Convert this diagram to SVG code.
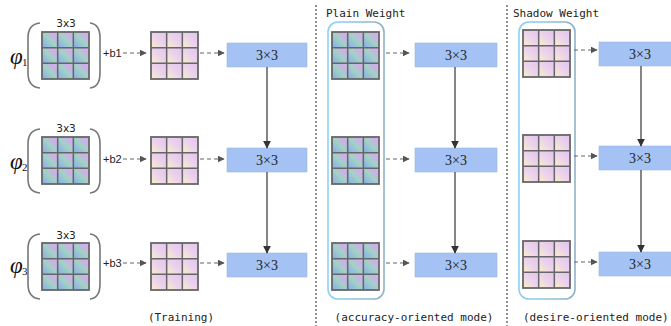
<svg xmlns="http://www.w3.org/2000/svg" xmlns:xlink="http://www.w3.org/1999/xlink" width="671" height="326" viewBox="0 0 671 326">
<style>
.lbl{font-family:"DejaVu Sans",sans-serif;font-size:10.5px;fill:#222;text-anchor:middle}
.bias{font-family:"Liberation Sans",Arial,sans-serif;font-size:11px;fill:#222}
.mono{font-family:"DejaVu Sans Mono","Liberation Mono",monospace;font-size:11px;fill:#222}
.box{fill:#a4c2f4;stroke:#9ab6e2;stroke-width:0.6}
.bt{font-family:"Liberation Serif","Times New Roman",serif;font-size:14px;fill:#222;text-anchor:middle}
.phi{font-family:"Liberation Serif","Times New Roman",serif;font-style:italic;font-size:23px;fill:#111}
.sub{font-family:"Liberation Serif","Times New Roman",serif;font-size:11px;fill:#111}
.paren{fill:none;stroke:#777;stroke-width:1.6}
.dash{fill:none;stroke:#666;stroke-width:1.2;stroke-dasharray:4 3;marker-end:url(#ah)}
.solid{fill:none;stroke:#444;stroke-width:1.3;marker-end:url(#ah2)}
.div{fill:none;stroke:#222;stroke-width:1;stroke-dasharray:2 2}
.frame{fill:none;stroke:url(#fg);stroke-width:1.6}
</style>
<defs>
<linearGradient id="cb" x1="0" y1="1" x2="1" y2="0">
<stop offset="0" stop-color="#86aaf0"/>
<stop offset="0.5" stop-color="#a2d2c4"/>
<stop offset="0.82" stop-color="#d6a8f2"/>
<stop offset="1" stop-color="#b0dcb0"/>
</linearGradient>
<linearGradient id="cp" x1="0" y1="1" x2="1" y2="0">
<stop offset="0" stop-color="#f8f0c6"/>
<stop offset="0.5" stop-color="#ecd2ec"/>
<stop offset="1" stop-color="#e2c4f0"/>
</linearGradient>
<linearGradient id="fg" x1="0" y1="0" x2="1" y2="0">
<stop offset="0" stop-color="#8ad2f6"/>
<stop offset="1" stop-color="#90b2c4"/>
</linearGradient>
<pattern id="pb" x="0" y="0" width="0.33333" height="0.33333" patternContentUnits="objectBoundingBox">
<rect width="0.33334" height="0.33334" fill="url(#cb)"/>
</pattern>
<pattern id="pp" x="0" y="0" width="0.33333" height="0.33333" patternContentUnits="objectBoundingBox">
<rect width="0.33334" height="0.33334" fill="url(#cp)"/>
</pattern>
<g id="gB">
<rect width="47" height="47" fill="url(#pb)"/>
<path d="M15.67,0V47M31.33,0V47M0,15.67H47M0,31.33H47" stroke="#666" stroke-width="1.5" fill="none"/>
<rect width="47" height="47" fill="none" stroke="#666" stroke-width="1.8"/>
</g>
<g id="gP">
<rect width="47" height="47" fill="url(#pp)"/>
<path d="M15.67,0V47M31.33,0V47M0,15.67H47M0,31.33H47" stroke="#666" stroke-width="1.5" fill="none"/>
<rect width="47" height="47" fill="none" stroke="#666" stroke-width="1.8"/>
</g>
<marker id="ah" viewBox="0 0 10 10" refX="9" refY="5" markerWidth="7" markerHeight="7" markerUnits="userSpaceOnUse" orient="auto">
<path d="M0,0L10,5L0,10z" fill="#555"/>
</marker>
<marker id="ah2" viewBox="0 0 10 10" refX="9" refY="5" markerWidth="8" markerHeight="8" markerUnits="userSpaceOnUse" orient="auto">
<path d="M0,0L10,5L0,10z" fill="#333"/>
</marker>
</defs>

<g id="dividers">
<line class="div" x1="316" y1="5" x2="316" y2="326"/>
<line class="div" x1="507" y1="5" x2="507" y2="326"/>
</g>

<g id="training">
<g id="t-row1">
<text class="phi" x="10" y="64">φ</text><text class="sub" x="22" y="66">1</text>
<path class="paren" d="M40,23Q28,24 28,38L28,73Q28,87 40,88"/>
<path class="paren" d="M90,23Q100,24 100,38L100,73Q100,87 90,88"/>
<text class="lbl" x="66" y="27">3x3</text>
<use xlink:href="#gB" x="42" y="32"/>
<text class="bias" x="103" y="57">+b1</text>
<use xlink:href="#gP" x="151" y="32"/>
<rect class="box" x="227" y="43" width="80" height="24"/>
<text class="bt" x="267" y="60">3×3</text>
</g>
<g id="t-row2">
<text class="phi" x="10" y="169">φ</text><text class="sub" x="22" y="171">2</text>
<path class="paren" d="M40,129Q28,130 28,144L28,179Q28,192 40,193"/>
<path class="paren" d="M90,129Q100,130 100,144L100,179Q100,192 90,193"/>
<text class="lbl" x="66" y="132">3x3</text>
<use xlink:href="#gB" x="42" y="137"/>
<text class="bias" x="103" y="163">+b2</text>
<use xlink:href="#gP" x="151" y="137"/>
<rect class="box" x="227" y="148" width="80" height="24"/>
<text class="bt" x="267" y="165">3×3</text>
</g>
<g id="t-row3">
<text class="phi" x="10" y="273">φ</text><text class="sub" x="22" y="275">3</text>
<path class="paren" d="M40,234Q28,235 28,249L28,284Q28,298 40,299"/>
<path class="paren" d="M90,234Q100,235 100,249L100,284Q100,298 90,299"/>
<text class="lbl" x="66" y="239">3x3</text>
<use xlink:href="#gB" x="42" y="243"/>
<text class="bias" x="103" y="267">+b3</text>
<use xlink:href="#gP" x="151" y="243"/>
<rect class="box" x="227" y="253" width="80" height="24"/>
<text class="bt" x="267" y="270">3×3</text>
</g>
<text class="mono" x="181" y="321" text-anchor="middle">(Training)</text>
</g>

<g id="plain">
<text class="mono" x="326" y="17">Plain Weight</text>
<rect class="frame" x="328" y="22" width="56" height="277" rx="10"/>
<use xlink:href="#gB" x="332" y="32"/>
<use xlink:href="#gB" x="332" y="137"/>
<use xlink:href="#gB" x="332" y="243"/>
<rect class="box" x="415" y="43" width="82" height="24"/>
<text class="bt" x="456" y="60">3×3</text>
<rect class="box" x="415" y="148" width="82" height="24"/>
<text class="bt" x="456" y="165">3×3</text>
<rect class="box" x="415" y="253" width="82" height="24"/>
<text class="bt" x="456" y="270">3×3</text>
<text class="mono" x="414" y="321" text-anchor="middle">(accuracy-oriented mode)</text>
</g>

<g id="shadow">
<text class="mono" x="513" y="17">Shadow Weight</text>
<rect class="frame" x="519" y="22" width="56" height="277" rx="10"/>
<use xlink:href="#gP" x="523" y="30"/>
<use xlink:href="#gP" x="523" y="135"/>
<use xlink:href="#gP" x="523" y="241"/>
<rect class="box" x="599" y="42" width="82" height="24"/>
<text class="bt" x="640" y="59">3×3</text>
<rect class="box" x="599" y="146" width="82" height="24"/>
<text class="bt" x="640" y="163">3×3</text>
<rect class="box" x="599" y="252" width="82" height="24"/>
<text class="bt" x="640" y="269">3×3</text>
<text class="mono" x="523" y="321">(desire-oriented mode)</text>
</g>

<g id="connectors">
<path class="dash" d="M123,53H146"/>
<path class="dash" d="M123,159H146"/>
<path class="dash" d="M123,263H146"/>
<path class="dash" d="M200,53H224"/>
<path class="dash" d="M200,159H224"/>
<path class="dash" d="M200,263H224"/>
<path class="dash" d="M386,53H409"/>
<path class="dash" d="M386,159H409"/>
<path class="dash" d="M386,263H409"/>
<path class="dash" d="M574,50H597"/>
<path class="dash" d="M574,156H597"/>
<path class="dash" d="M574,262H597"/>
<path class="solid" d="M267,67V148"/>
<path class="solid" d="M267,172V253"/>
<path class="solid" d="M455,67V148"/>
<path class="solid" d="M455,172V253"/>
<path class="solid" d="M641,66V146"/>
<path class="solid" d="M641,170V252"/>
</g>
</svg>
